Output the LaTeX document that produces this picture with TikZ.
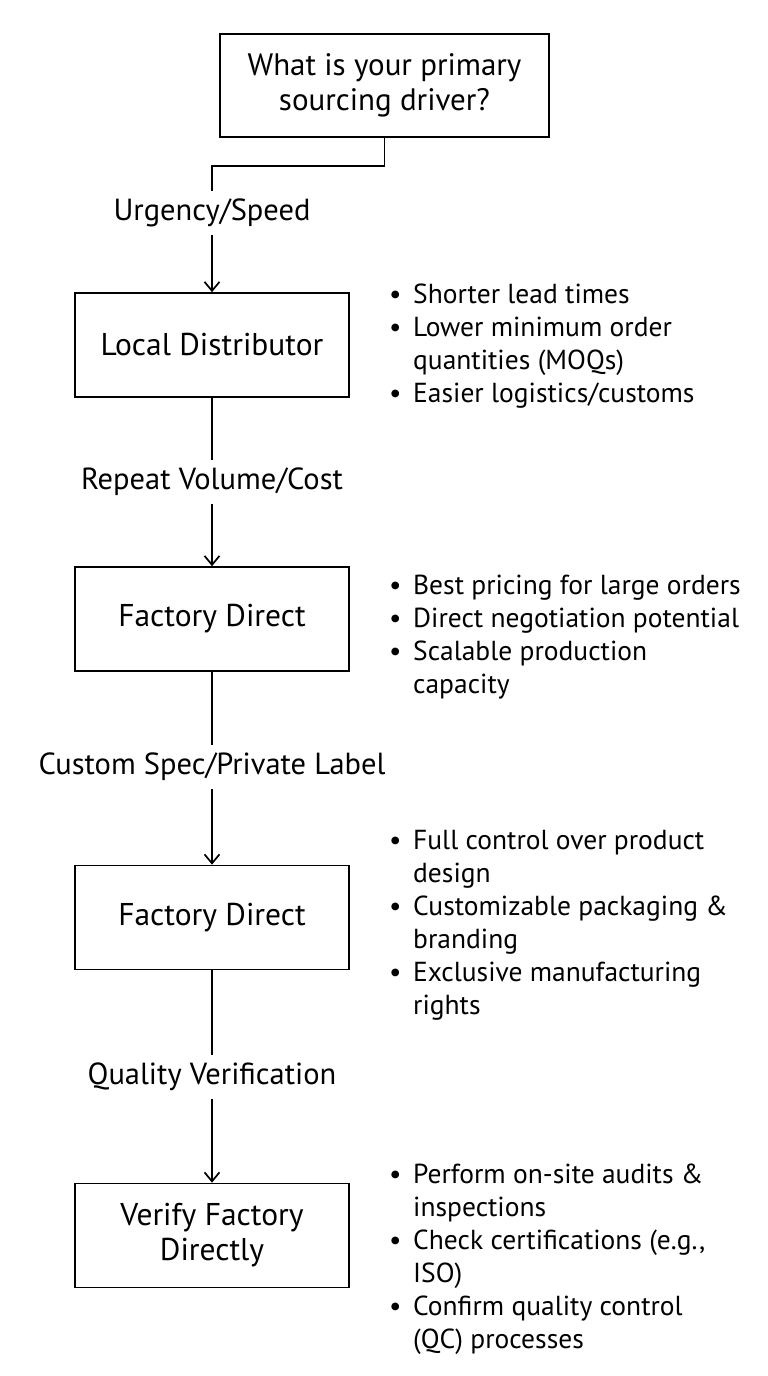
\documentclass[tikz,border=0pt]{standalone}
\usepackage{fontspec}
\setmainfont{PT Sans}
\usetikzlibrary{arrows.meta}

\tikzset{
  question/.style={draw, line width=1.7pt, minimum width=329pt, minimum height=103pt,
    align=center, font=\fontsize{31}{35}\selectfont},
  stage/.style={draw, line width=1.7pt, minimum width=274pt, minimum height=104pt,
    align=center, font=\fontsize{31.5}{35}\selectfont},
  driver/.style={font=\fontsize{30.5}{34}\selectfont, inner xsep=0pt, inner ysep=3pt,
    text height=22pt, text depth=7pt, minimum height=44pt},
  notes/.style={anchor=base west, inner sep=0pt, font=\fontsize{27.5}{33}\selectfont},
  link/.style={line width=1.7pt},
  flow/.style={line width=1.7pt, -{Straight Barb[length=9pt, width=15pt, line width=1.7pt]}},
}
\newcommand{\bul}{\makebox[24pt][l]{\textbullet}}
\newcommand{\cont}{\hspace*{24pt}}

\begin{document}
\begin{tikzpicture}[x=1pt, y=-1pt]
  \useasboundingbox (0,0) rectangle (768,1376);

  % Question
  \node[question] (driver) at (384.5,85.5) {What is your primary\\sourcing driver?};

  % Sourcing stages
  \node[stage] (local) at (212,345) {Local Distributor};
  \node[stage] (volume) at (212,619) {Factory Direct};
  \node[stage] (custom) at (212,917.5) {Factory Direct};
  \node[stage] (verify) at (212,1235.5) {Verify Factory\\Directly};

  % Drivers
  \node[driver] (speed) at (212,213) {Urgency/Speed};
  \node[driver] (cost) at (212,482) {Repeat Volume/Cost};
  \node[driver] (spec) at (212,767) {Custom Spec/Private Label};
  \node[driver] (quality) at (212,1077) {Quality Verification};

  % Connectors
  \coordinate (turn) at (212,166);
  \draw[link] (driver.south) |- (turn) -- (speed.north);
  \draw[flow] (speed) -- (local);
  \draw[link] (local) -- (cost);
  \draw[flow] (cost) -- (volume);
  \draw[link] (volume) -- (spec);
  \draw[flow] (spec) -- (custom);
  \draw[link] (custom) -- (quality);
  \draw[flow] (quality) -- (verify);

  % Notes
  \node[notes] (localnotes) at (389,303) {\begin{tabular}[t]{@{}l@{}}
    \bul Shorter lead times\\
    \bul Lower minimum order\\
    \cont quantities (MOQs)\\
    \bul Easier logistics/customs
  \end{tabular}};
  \node[notes] (volumenotes) at (389,594) {\begin{tabular}[t]{@{}l@{}}
    \bul Best pricing for large orders\\
    \bul Direct negotiation potential\\
    \bul Scalable production\\
    \cont capacity
  \end{tabular}};
  \node[notes] (customnotes) at (389,849) {\begin{tabular}[t]{@{}l@{}}
    \bul Full control over product\\
    \cont design\\
    \bul Customizable packaging \&\\
    \cont branding\\
    \bul Exclusive manufacturing\\
    \cont rights
  \end{tabular}};
  \node[notes] (verifynotes) at (389,1183) {\begin{tabular}[t]{@{}l@{}}
    \bul Perform on-site audits \&\\
    \cont inspections\\
    \bul Check certifications (e.g.,\\
    \cont ISO)\\
    \bul Confirm quality control\\
    \cont (QC) processes
  \end{tabular}};
\end{tikzpicture}
\end{document}
